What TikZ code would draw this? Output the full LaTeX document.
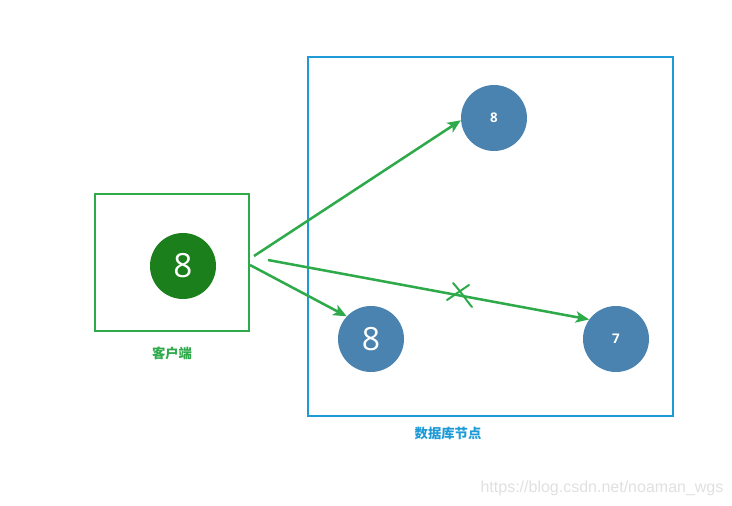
\documentclass[tikz,border=0pt]{standalone}
\usepackage{fontspec}
\setmainfont{Open Sans}
\newfontfamily\cjk{Noto Sans CJK SC}
\newfontfamily\wm{Liberation Sans}
\usetikzlibrary{arrows.meta}
\definecolor{cgreen}{HTML}{2EAA4A}
\definecolor{dgreen}{HTML}{1B7F1B}
\definecolor{cblue}{HTML}{1E9BD7}
\definecolor{steel}{HTML}{4A83B0}
\tikzset{
  box/.style={draw, line width=1.5pt, inner sep=0pt},
  ball/.style={circle, fill=steel, minimum size=49.5pt, inner sep=0pt, text=white},
  arr/.style={draw=cgreen, line width=1.9pt, -{Stealth[length=10pt,width=8.5pt,inset=2.5pt]}},
  lbl/.style={font=\cjk\bfseries\fontsize{10}{12}\selectfont},
}
\begin{document}
\begin{tikzpicture}[x=0.75pt,y=-0.75pt]
\useasboundingbox (0,0) rectangle (732,506);
% boxes
\node[box, draw=cgreen, minimum width=115.5pt, minimum height=102.75pt] (client) at (172,262.5) {};
\node[box, draw=cblue, minimum width=273.75pt, minimum height=269.25pt] (db) at (490.5,236.5) {};
% labels
\node[lbl, text=cgreen] (clientlbl) at (172,353) {客户端};
\node[lbl, text=cblue] (dblbl) at (448,433) {数据库节点};
% circles
\node[ball, fill=dgreen, font=\fontsize{25}{28}\selectfont] (c) at (183,266) {8};
\node[ball, font=\bfseries\fontsize{10}{12}\selectfont] (n1) at (494,118) {8};
\node[ball, font=\fontsize{24}{26}\selectfont] (n2) at (371,339) {8};
\node[ball, font=\bfseries\fontsize{10}{12}\selectfont] (n3) at (616,339) {7};
% arrow starts
\coordinate (s1) at (254,256);
\coordinate (s2) at (250,265);
\coordinate (s3) at (268,260);
\draw[arr] (s1) -- (n1.184);
\draw[arr] (s2) -- (n2.137);
\draw[arr] (s3) -- (n3.144);
% cross mark
\coordinate (x1a) at (453,283);
\coordinate (x1b) at (472,307);
\coordinate (x2a) at (469,285);
\coordinate (x2b) at (447,300);
\draw[cgreen, line width=1.5pt, line cap=round] (x1a) .. controls (462,293) and (466,300) .. (x1b);
\draw[cgreen, line width=1.5pt, line cap=round] (x2a) -- (x2b);
% watermark
\node[text=black!12, font=\wm\fontsize{12}{14}\selectfont] (wmk) at (602,488) {https://blog.csdn.net/noaman\_wgs};
\end{tikzpicture}
\end{document}
